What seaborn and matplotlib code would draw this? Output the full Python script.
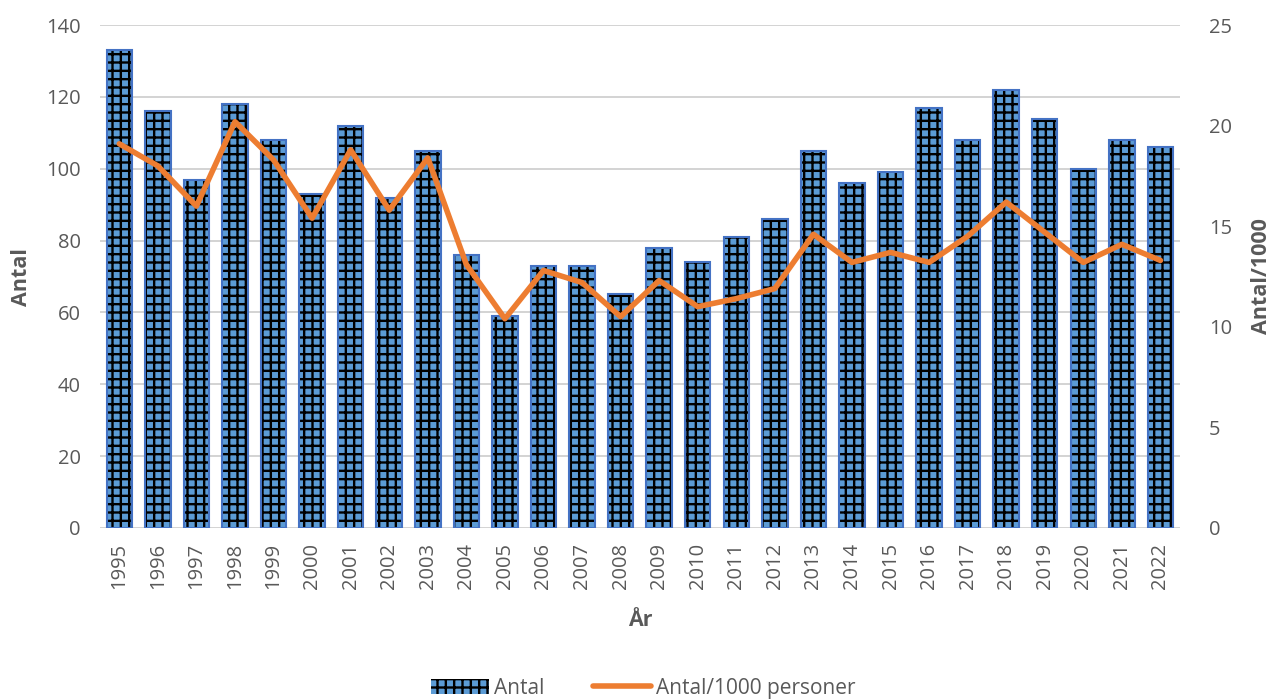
# Antal per år med Antal/1000 personer på höger axel
import numpy as np
import pandas as pd
import seaborn as sns
import matplotlib
matplotlib.use('Agg')
from matplotlib import pyplot as plt
from matplotlib.patches import Patch
from matplotlib.lines import Line2D

years = [str(y) for y in range(1995, 2023)]
antal = [133, 116, 97, 118, 108, 93, 112, 92, 105, 76, 59, 73, 73, 65,
         78, 74, 81, 86, 105, 96, 99, 117, 108, 122, 114, 100, 108, 106]
per_1000 = [19.1, 18.0, 16.0, 20.2, 18.3, 15.4, 18.8, 15.8, 18.4, 13.1,
            10.4, 12.8, 12.2, 10.5, 12.3, 11.0, 11.4, 11.9, 14.6, 13.2,
            13.7, 13.2, 14.5, 16.2, 14.7, 13.2, 14.1, 13.3]

left_ticks = [0, 20, 40, 60, 80, 100, 120, 140]
right_ticks = [0, 5, 10, 15, 20, 25]

df = pd.DataFrame({'year': years, 'antal': antal, 'per_1000': per_1000})
df['pos'] = np.arange(len(df))

sns.set_style('white')
plt.rcParams['font.family'] = ['Open Sans', 'DejaVu Sans']
plt.rcParams['hatch.linewidth'] = 1.7

blue = '#5B9BD5'
edge = '#4472C4'
orange = '#ED7D31'
grey = '#595959'

fig, ax = plt.subplots(figsize=(12.74, 7), dpi=100)
fig.subplots_adjust(left=0.0785, right=0.926, top=0.964, bottom=0.246)

# fyllda staplar med svart rutmönster
sns.barplot(data=df, x='year', y='antal', color=blue, saturation=1,
            width=0.66, hatch='++', edgecolor='black', linewidth=0, ax=ax,
            zorder=2)
# blå kant
sns.barplot(data=df, x='year', y='antal', fill=False, width=0.66,
            edgecolor=edge, linewidth=1.5, ax=ax, zorder=3)

ax.set_ylim(0, 140)
ax.set_yticks(left_ticks)
ax.set_xlim(-0.5, len(years) - 0.5)
ax.yaxis.grid(True, color='#D0D0D0', linewidth=1.3, zorder=0)
ax.set_axisbelow(True)
for s in ax.spines.values():
    s.set_visible(False)
ax.tick_params(axis='both', length=0, colors=grey, labelsize=14.5)
ax.tick_params(axis='x', rotation=90, pad=11)
ax.tick_params(axis='y', pad=14)
ax.set_xlabel('År', fontsize=15.5, fontweight='bold', color=grey, labelpad=15)
ax.set_ylabel('Antal', fontsize=15.5, fontweight='bold', color=grey, labelpad=10)

ax2 = ax.twinx()
sns.lineplot(data=df, x='pos', y='per_1000', color=orange, linewidth=4,
             ax=ax2, zorder=4)
ax2.set_ylim(0, 25)
ax2.set_yticks(right_ticks)
for s in ax2.spines.values():
    s.set_visible(False)
ax2.tick_params(axis='y', length=0, colors=grey, labelsize=14.5, pad=21)
ax2.set_ylabel('Antal/1000', fontsize=15.5, fontweight='bold', color=grey,
               labelpad=14)
ax2.set_xlabel('')

handles = [Patch(facecolor=blue, edgecolor='black', hatch='++', linewidth=0),
           Line2D([0], [0], color=orange, linewidth=4)]
leg = fig.legend(handles, ['Antal', 'Antal/1000 personer'], loc='center',
                 bbox_to_anchor=(0.505, 0.017), ncol=2, frameon=False,
                 fontsize=15, handlelength=2.8, columnspacing=2.3,
                 handletextpad=0.25)
for t in leg.get_texts():
    t.set_color(grey)

fig.savefig('out.png', dpi=100)
